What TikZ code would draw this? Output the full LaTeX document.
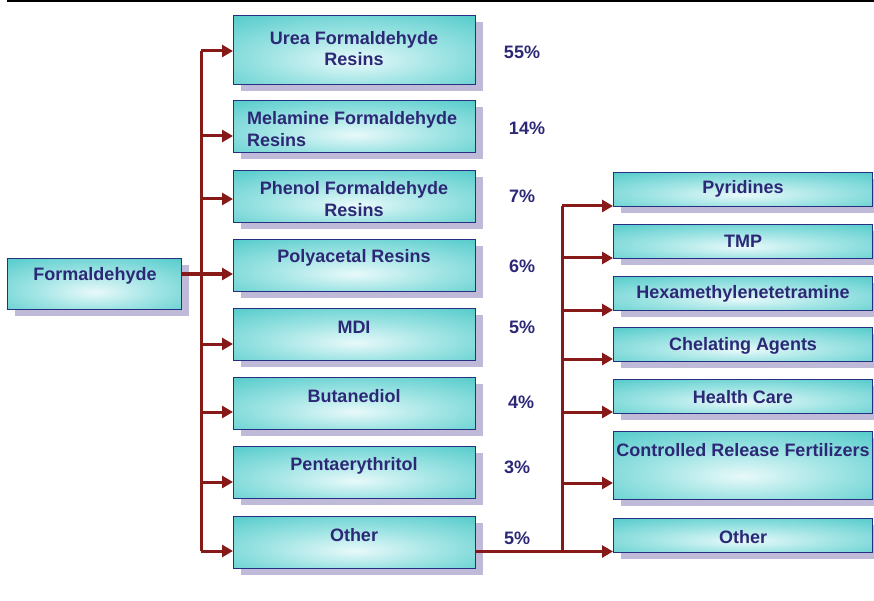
\documentclass[tikz,border=0pt]{standalone}
\usepackage{fontspec}
\setmainfont{Liberation Sans}
\usetikzlibrary{arrows.meta,shadows}
\definecolor{navy}{RGB}{44,40,118}
\definecolor{edgec}{RGB}{40,46,130}
\definecolor{arrc}{RGB}{135,25,25}
\definecolor{tealc}{RGB}{88,204,204}
\definecolor{midc}{RGB}{160,228,228}
\definecolor{lightc}{RGB}{232,249,250}
\definecolor{shadc}{RGB}{190,186,216}
\pgfdeclareradialshading{boxglow}{\pgfpoint{0bp}{-8bp}}{color(0bp)=(lightc); color(18bp)=(midc); color(38bp)=(tealc); color(80bp)=(tealc)}
\tikzset{
  x=1pt,y=-1pt,
  box/.style={draw=edgec, line width=1.2pt, shading=boxglow, anchor=north west, inner sep=0pt,
    general shadow={fill=shadc, shadow xshift=7pt, shadow yshift=-6pt}},
  lbl/.style={text=navy, font=\fontsize{18}{21.5}\selectfont\bfseries, inner sep=0pt, align=center},
  pct/.style={text=navy, font=\fontsize{18}{21.5}\selectfont\bfseries, inner sep=0pt},
  link/.style={draw=arrc, line width=3pt},
  arr/.style={link, -{Triangle[length=11pt,width=12pt]}}
}
\begin{document}
\begin{tikzpicture}
\useasboundingbox (0,0) rectangle (874,601);
\fill[black] (7,0) rectangle (874,2.4);
% left source
\node[box, minimum width=174pt, minimum height=51pt] (form) at (7,258) {};
\node[lbl] (tform) at (95,276) {Formaldehyde};
% left column
\node[box, minimum width=242pt, minimum height=69pt] (urea) at (233,15) {};
\node[box, minimum width=242pt, minimum height=52pt] (mel) at (233,100) {};
\node[box, minimum width=242pt, minimum height=52pt] (phen) at (233,170) {};
\node[box, minimum width=242pt, minimum height=52pt] (poly) at (233,239) {};
\node[box, minimum width=242pt, minimum height=52pt] (mdi) at (233,308) {};
\node[box, minimum width=242pt, minimum height=52pt] (buta) at (233,377) {};
\node[box, minimum width=242pt, minimum height=52pt] (penta) at (233,446) {};
\node[box, minimum width=242pt, minimum height=52pt] (oth) at (233,516) {};
\node[lbl] (turea) at (354,48.5) {Urea Formaldehyde\\Resins};
\node[lbl, align=left, anchor=west] (tmel) at (247,129) {Melamine Formaldehyde\\Resins};
\node[lbl] (tphen) at (354,199) {Phenol Formaldehyde\\Resins};
\node[lbl] (tpoly) at (354,258) {Polyacetal Resins};
\node[lbl] (tmdi) at (354,327) {MDI};
\node[lbl] (tbuta) at (354,396) {Butanediol};
\node[lbl] (tpenta) at (354,466) {Pentaerythritol};
\node[lbl] (toth) at (354,535) {Other};
% percentages
\node[pct] (p1) at (522,52) {55\%};
\node[pct] (p2) at (527,128) {14\%};
\node[pct] (p3) at (522,196) {7\%};
\node[pct] (p4) at (522,266) {6\%};
\node[pct] (p5) at (522,327) {5\%};
\node[pct] (p6) at (521,402) {4\%};
\node[pct] (p7) at (517,467) {3\%};
\node[pct] (p8) at (517,538) {5\%};
% right column
\node[box, minimum width=259pt, minimum height=34pt] (pyr) at (613,172) {};
\node[box, minimum width=259pt, minimum height=34pt] (tmp) at (613,224) {};
\node[box, minimum width=259pt, minimum height=34pt] (hexa) at (613,276) {};
\node[box, minimum width=259pt, minimum height=34pt] (chel) at (613,327) {};
\node[box, minimum width=259pt, minimum height=34pt] (hc) at (613,379) {};
\node[box, minimum width=259pt, minimum height=68pt] (crf) at (613,431) {};
\node[box, minimum width=259pt, minimum height=34pt] (oth2) at (613,518) {};
\node[lbl] (tpyr) at (743,189) {Pyridines};
\node[lbl] (ttmp) at (743,241) {TMP};
\node[lbl] (thexa) at (743,294) {Hexamethylenetetramine};
\node[lbl] (tchel) at (743,346) {Chelating Agents};
\node[lbl] (thc) at (743,397) {Health Care};
\node[lbl] (tcrf) at (743,450) {Controlled Release Fertilizers};
\node[lbl] (toth2) at (743,537) {Other};
% left trunk
\coordinate (a1) at (201,51);
\coordinate (a2) at (201,136);
\coordinate (a3) at (201,199);
\coordinate (a4) at (201,274);
\coordinate (a5) at (201,344);
\coordinate (a6) at (201,412);
\coordinate (a7) at (201,482);
\coordinate (a8) at (201,551);
\draw[link] (a1) -- (a8);
\draw[arr] (a1) -- (a1 -| urea.west);
\draw[arr] (a2) -- (a2 -| mel.west);
\draw[arr] (a3) -- (a3 -| phen.west);
\draw[arr] (form.east |- a4) -- (a4 -| poly.west);
\draw[arr] (a5) -- (a5 -| mdi.west);
\draw[arr] (a6) -- (a6 -| buta.west);
\draw[arr] (a7) -- (a7 -| penta.west);
\draw[arr] (a8) -- (a8 -| oth.west);
% right trunk
\coordinate (b1) at (562,206);
\coordinate (b2) at (562,258);
\coordinate (b3) at (562,310);
\coordinate (b4) at (562,359);
\coordinate (b5) at (562,412);
\coordinate (b6) at (562,483);
\coordinate (b7) at (562,551.5);
\draw[link] (b1) -- (b7);
\draw[link] (oth.east |- b7) -- (b7);
\draw[arr] (b1) -- (b1 -| pyr.west);
\draw[arr] (b2) -- (b2 -| tmp.west);
\draw[arr] (b3) -- (b3 -| hexa.west);
\draw[arr] (b4) -- (b4 -| chel.west);
\draw[arr] (b5) -- (b5 -| hc.west);
\draw[arr] (b6) -- (b6 -| crf.west);
\draw[arr] (b7) -- (b7 -| oth2.west);
\end{tikzpicture}
\end{document}
